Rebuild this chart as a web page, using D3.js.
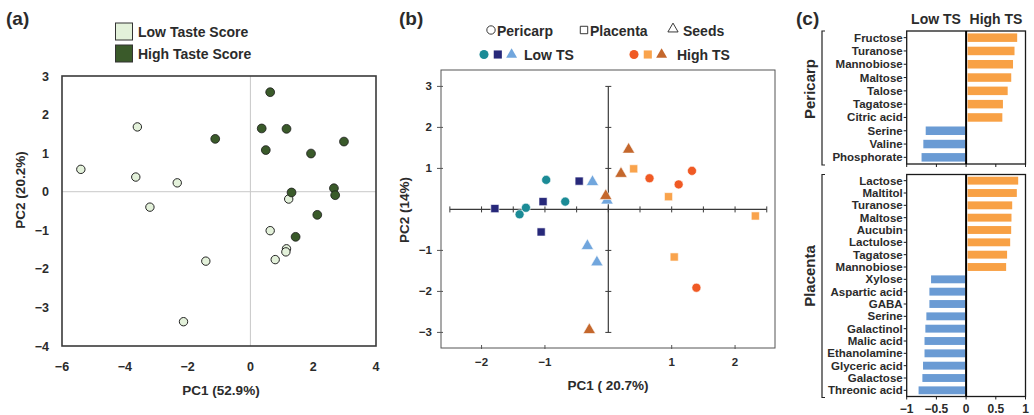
<!DOCTYPE html>
<html>
<head>
<meta charset="utf-8">
<script src="https://cdn.jsdelivr.net/npm/d3@7"></script>
<style>
  html, body { margin: 0; padding: 0; background: #fff; }
  svg { display: block; font-family: "Liberation Sans", Arial, sans-serif; }
  text { fill: #2b2b2b; font-weight: bold; }
</style>
</head>
<body>
<svg id="fig" width="1034" height="415"></svg>
<script>
// ---- (a) PCA scores by taste score group ----
const lowTaste = [
  [-5.4, 0.58], [-3.6, 1.68], [-3.65, 0.38], [-2.33, 0.23], [-3.2, -0.40],
  [-1.42, -1.80], [-2.13, -3.37], [1.22, -0.19], [0.63, -1.01],
  [1.15, -1.48], [1.13, -1.56], [0.79, -1.76]
];
const highTaste = [
  [0.63, 2.58], [0.36, 1.64], [1.15, 1.63], [-1.12, 1.37], [0.49, 1.08],
  [1.93, 0.99], [2.98, 1.30], [1.31, -0.02], [2.66, 0.09], [2.70, -0.09],
  [2.13, -0.60], [1.44, -1.17]
];
const aXTicks = [-6, -4, -2, 0, 2, 4];
const aYTicks = [3, 2, 1, 0, -1, -2, -3, -4];

// ---- (b) PCA scores by tissue and taste score ----
const lowPericarp  = [[-0.98, 0.72], [-1.30, 0.04], [-1.40, -0.12], [-0.68, 0.19]];
const lowPlacenta  = [[-1.79, 0.02], [-1.03, 0.19], [-0.46, 0.69], [-1.06, -0.55]];
const lowSeeds     = [[-0.25, 0.67], [-0.33, -0.89], [-0.18, -1.29], [-0.02, 0.22]];
const highPericarp = [[0.65, 0.76], [1.11, 0.61], [1.32, 0.94], [1.39, -1.91]];
const highPlacenta = [[0.40, 0.99], [0.95, 0.31], [2.32, -0.16], [1.04, -1.16]];
const highSeeds    = [[0.32, 1.46], [0.20, 0.87], [-0.04, 0.33], [-0.30, -2.94]];
const bXTicks = [-2, -1, 1, 2];
const bYTicks = [3, 2, 1, -1, -2, -3];

// ---- (c) loadings of discriminating metabolites ----
const pericarpMetabolites = ["Fructose", "Turanose", "Mannobiose", "Maltose", "Talose",
  "Tagatose", "Citric acid", "Serine", "Valine", "Phosphorate"];
const pericarpLoadings = [0.86, 0.815, 0.79, 0.76, 0.70, 0.62, 0.61, -0.68, -0.72, -0.75];
const placentaMetabolites = ["Lactose", "Maltitol", "Turanose", "Maltose", "Aucubin",
  "Lactulose", "Tagatose", "Mannobiose", "Xylose", "Aspartic acid", "GABA", "Serine",
  "Galactinol", "Malic acid", "Ethanolamine", "Glyceric acid", "Galactose", "Threonic acid"];
const placentaLoadings = [0.877, 0.854, 0.776, 0.764, 0.759, 0.742, 0.69, 0.674,
  -0.59, -0.618, -0.618, -0.669, -0.686, -0.70, -0.70, -0.725, -0.736, -0.80];
const cXTicks = [-1, -0.5, 0, 0.5, 1];

const svg = d3.select("#fig");
const minus = v => (v < 0 ? "\u2212" + Math.abs(v) : String(v));

// ================= Panel (a) =================
(function () {
  const x = d3.scaleLinear().domain([-6, 4]).range([62, 376]);
  const y = d3.scaleLinear().domain([-4, 3]).range([346, 76]);
  const g = svg.append("g");

  g.append("text").attr("x", 6).attr("y", 25).style("font-size", "19px").text("(a)");

  // legend
  const leg = [["Low Taste Score", "#e3f1da"], ["High Taste Score", "#3a5a2a"]];
  leg.forEach((d, i) => {
    g.append("rect").attr("x", 115.5).attr("y", 23 + i * 22).attr("width", 17).attr("height", 17)
      .attr("fill", d[1]).attr("stroke", "#333").attr("stroke-width", 1);
    g.append("text").attr("x", 138).attr("y", 37 + i * 22).style("font-size", "14px").text(d[0]);
  });

  // zero lines
  g.append("line").attr("x1", x(0)).attr("x2", x(0)).attr("y1", y(3)).attr("y2", y(-4))
    .attr("stroke", "#c8c8c8").attr("stroke-width", 1);
  g.append("line").attr("x1", x(-6)).attr("x2", x(4)).attr("y1", y(0)).attr("y2", y(0))
    .attr("stroke", "#c8c8c8").attr("stroke-width", 1);

  // frame
  g.append("rect").attr("x", x(-6)).attr("y", y(3)).attr("width", x(4) - x(-6))
    .attr("height", y(-4) - y(3)).attr("fill", "none").attr("stroke", "#3a3a3a").attr("stroke-width", 1.6);

  g.selectAll(".xt").data(aXTicks).join("text")
    .attr("x", d => x(d)).attr("y", 371).attr("text-anchor", "middle")
    .style("font-size", "12.5px").text(minus);
  g.selectAll(".yt").data(aYTicks).join("text")
    .attr("x", 49).attr("y", d => y(d) + 4.5).attr("text-anchor", "end")
    .style("font-size", "12.5px").text(minus);

  g.append("text").attr("x", 221).attr("y", 395).attr("text-anchor", "middle")
    .style("font-size", "13.5px").text("PC1 (52.9%)");
  g.append("text").attr("transform", "translate(25,190) rotate(-90)").attr("text-anchor", "middle")
    .style("font-size", "13.5px").text("PC2 (20.2%)");

  g.selectAll(".lo").data(lowTaste).join("circle")
    .attr("cx", d => x(d[0])).attr("cy", d => y(d[1])).attr("r", 4.2)
    .attr("fill", "#e3f1da").attr("stroke", "#222").attr("stroke-width", 1);
  g.selectAll(".hi").data(highTaste).join("circle")
    .attr("cx", d => x(d[0])).attr("cy", d => y(d[1])).attr("r", 4.4)
    .attr("fill", "#3a5a2a").attr("stroke", "#1a1a1a").attr("stroke-width", 0.8);
})();

// ================= Panel (b) =================
(function () {
  const x = d3.scaleLinear().domain([-2.64, 2.63]).range([441, 775]);
  const y = d3.scaleLinear().domain([-3.38, 3.4]).range([348, 70]);
  const g = svg.append("g");

  g.append("text").attr("x", 399).attr("y", 25).style("font-size", "19px").text("(b)");

  // legend row 1: tissue shapes
  const shapeLeg = [[d3.symbolCircle, "Pericarp", 491, 55], [d3.symbolSquare, "Placenta", 584, 55], [d3.symbolTriangle, "Seeds", 673, 45]];
  shapeLeg.forEach(d => {
    g.append("path").attr("transform", `translate(${d[2]},${d == shapeLeg[2] ? 29 : 30})`)
      .attr("d", d3.symbol().type(d[0]).size(d[3])).attr("fill", "none")
      .attr("stroke", "#222").attr("stroke-width", 0.9);
    g.append("text").attr("x", d[2] + (d[1] === "Seeds" ? 10 : 6)).attr("y", 36)
      .style("font-size", "14px").text(d[1]);
  });

  // legend row 2: taste groups
  const groupLeg = [
    { cols: ["#1b8b96", "#27287a", "#71a6dd"], label: "Low TS", x0: 484, tx: 524 },
    { cols: ["#f05a24", "#f9a34c", "#c4672c"], label: "High TS", x0: 634, tx: 677 }
  ];
  const syms = [[d3.symbolCircle, 64], [d3.symbolSquare, 66], [d3.symbolTriangle, 52]];
  groupLeg.forEach(gr => {
    syms.forEach((s, i) => {
      g.append("path").attr("transform", `translate(${gr.x0 + i * 13.8},${54.5})`)
        .attr("d", d3.symbol().type(s[0]).size(s[1])).attr("fill", gr.cols[i]);
    });
    g.append("text").attr("x", gr.tx).attr("y", 60).style("font-size", "14px").text(gr.label);
  });

  // frame (left, bottom, top, right)
  g.append("rect").attr("x", x(-2.64)).attr("y", y(3.4)).attr("width", x(2.63) - x(-2.64))
    .attr("height", y(-3.38) - y(3.4)).attr("fill", "none").attr("stroke", "#555").attr("stroke-width", 1);

  // left frame ticks + labels
  g.selectAll(".ylt").data(bYTicks).join("line")
    .attr("x1", x(-2.64) - 4).attr("x2", x(-2.64) + 2).attr("y1", d => y(d)).attr("y2", d => y(d))
    .attr("stroke", "#555");
  g.selectAll(".yl").data(bYTicks).join("text")
    .attr("x", 432).attr("y", d => y(d) + 4).attr("text-anchor", "end")
    .style("font-size", "11.5px").text(minus);

  // bottom frame ticks + labels
  g.selectAll(".xbt").data(bXTicks).join("line")
    .attr("x1", d => x(d)).attr("x2", d => x(d)).attr("y1", y(-3.38) - 3).attr("y2", y(-3.38) + 1)
    .attr("stroke", "#555");
  g.selectAll(".xb").data(bXTicks).join("text")
    .attr("x", d => x(d)).attr("y", 366).attr("text-anchor", "middle")
    .style("font-size", "11.5px").text(minus);

  // central crossing axes
  const axc = "#3a3a3a";
  g.append("line").attr("x1", x(-2.5)).attr("x2", x(2.5)).attr("y1", y(0)).attr("y2", y(0))
    .attr("stroke", axc).attr("stroke-width", 1.2);
  g.append("line").attr("x1", x(0)).attr("x2", x(0)).attr("y1", y(3)).attr("y2", y(-3))
    .attr("stroke", axc).attr("stroke-width", 1.2);
  const hT = d3.range(-2.5, 2.51, 0.5);
  g.selectAll(".hct").data(hT).join("line")
    .attr("x1", d => x(d)).attr("x2", d => x(d)).attr("y1", y(0) - 3).attr("y2", y(0) + 3)
    .attr("stroke", axc).attr("stroke-width", 1);
  const vT = [3, 2, 1, -1, -2, -3];
  g.selectAll(".vct").data(vT).join("line")
    .attr("x1", x(0) - 3).attr("x2", x(0) + 3).attr("y1", d => y(d)).attr("y2", d => y(d))
    .attr("stroke", axc).attr("stroke-width", 1);

  g.append("text").attr("x", 608).attr("y", 390).attr("text-anchor", "middle")
    .style("font-size", "13.5px").text("PC1 ( 20.7%)");
  g.append("text").attr("transform", "translate(409,210) rotate(-90)").attr("text-anchor", "middle")
    .style("font-size", "13.5px").text("PC2 (14%)");

  const groups = [
    [lowSeeds, d3.symbolTriangle, "#71a6dd", 66],
    [lowPericarp, d3.symbolCircle, "#1b8b96", 64],
    [lowPlacenta, d3.symbolSquare, "#27287a", 66],
    [highPericarp, d3.symbolCircle, "#f05a24", 64],
    [highPlacenta, d3.symbolSquare, "#f9a34c", 66],
    [highSeeds, d3.symbolTriangle, "#c4672c", 66]
  ];
  groups.forEach(([pts, type, col, size]) => {
    g.selectAll(null).data(pts).join("path")
      .attr("transform", d => `translate(${x(d[0])},${y(d[1])})`)
      .attr("d", d3.symbol().type(type).size(size))
      .attr("fill", col).attr("stroke", "#fff").attr("stroke-width", 0.6);
  });
})();

// ================= Panel (c) =================
(function () {
  const x = d3.scaleLinear().domain([-1, 1]).range([906.7, 1025.5]);
  const g = svg.append("g");

  g.append("text").attr("x", 796).attr("y", 25).style("font-size", "19px").text("(c)");
  g.append("text").attr("x", 936).attr("y", 24).attr("text-anchor", "middle")
    .style("font-size", "14px").text("Low TS");
  g.append("text").attr("x", 996).attr("y", 24).attr("text-anchor", "middle")
    .style("font-size", "14px").text("High TS");

  function block(names, vals, top, bottom, title, titleY, showLabels) {
    const y = d3.scaleBand().domain(names).range([top, bottom]).paddingInner(0.36).paddingOuter(0.18);
    const data = names.map((n, i) => ({ n, v: vals[i] }));

    g.selectAll(null).data(data).join("rect")
      .attr("x", d => (d.v > 0 ? x(0) + 1.5 : x(d.v)))
      .attr("width", d => (d.v > 0 ? x(d.v) - x(0) - 1.5 : x(0) - x(d.v) - 1))
      .attr("y", d => y(d.n)).attr("height", y.bandwidth())
      .attr("fill", d => (d.v > 0 ? "#f8a145" : "#6a9bd4"));

    g.append("rect").attr("x", x(-1)).attr("y", top).attr("width", x(1) - x(-1))
      .attr("height", bottom - top).attr("fill", "none").attr("stroke", "#1a1a1a").attr("stroke-width", 1.3);
    g.append("line").attr("x1", x(0)).attr("x2", x(0)).attr("y1", top).attr("y2", bottom)
      .attr("stroke", "#000").attr("stroke-width", 2);

    // category ticks and labels
    g.selectAll(null).data(names).join("line")
      .attr("x1", x(-1) - 3).attr("x2", x(-1)).attr("y1", d => y(d) + y.bandwidth() / 2)
      .attr("y2", d => y(d) + y.bandwidth() / 2).attr("stroke", "#1a1a1a");
    g.selectAll(null).data(names).join("text")
      .attr("x", x(-1) - 4).attr("y", d => y(d) + y.bandwidth() / 2 + 4)
      .attr("text-anchor", "end").style("font-size", "11.5px").text(d => d);

    // value ticks
    g.selectAll(null).data(cXTicks).join("line")
      .attr("x1", d => x(d)).attr("x2", d => x(d)).attr("y1", bottom).attr("y2", bottom + 3)
      .attr("stroke", "#1a1a1a");
    if (showLabels) {
      g.selectAll(null).data(cXTicks).join("text")
        .attr("x", d => x(d)).attr("y", bottom + 16).attr("text-anchor", "middle")
        .style("font-size", "12px").text(minus);
    }

    // grouping bracket
    const bx = 822;
    g.append("path").attr("d", `M${bx + 3},${top} H${bx} V${bottom + 1} H${bx + 3}`)
      .attr("fill", "none").attr("stroke", "#222").attr("stroke-width", 1.2);
    g.append("text").attr("transform", `translate(815,${titleY}) rotate(-90)`)
      .attr("text-anchor", "middle").style("font-size", "15px").text(title);
  }

  block(pericarpMetabolites, pericarpLoadings, 31, 164, "Pericarp", 89, false);
  block(placentaMetabolites, placentaLoadings, 174.5, 396.5, "Placenta", 276, true);
})();
</script>
</body>
</html>
